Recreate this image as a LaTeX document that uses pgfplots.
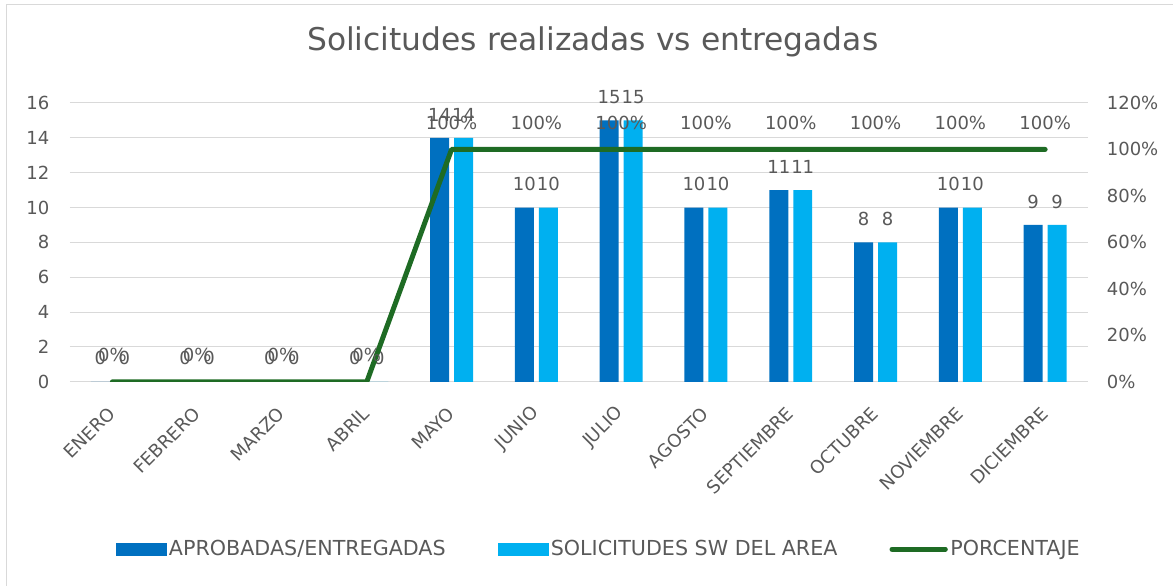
\documentclass[border=0pt]{standalone}
\usepackage{pgfplots}
\pgfplotsset{compat=1.18}
\usepackage{fontspec}
\setmainfont{DejaVu Sans}

\definecolor{barA}{HTML}{0070C0}
\definecolor{barB}{HTML}{00B0F0}
\definecolor{lineG}{HTML}{1E6B24}
\definecolor{txt}{HTML}{595959}
\definecolor{gridc}{HTML}{D9D9D9}

\newcommand\tickfont{\fontsize{13.5pt}{16pt}\selectfont}

\pgfplotsset{
  /pgf/number format/assume math mode=true,
  base/.style={
    scale only axis, width=763.5pt, height=209.25pt,
    at={(52.5pt,153pt)}, anchor=south west,
    xmin=-0.5, xmax=11.5,
    major tick length=0pt,
    axis line style={draw=none},
    tick label style={font=\tickfont, text=txt},
  },
}

\begin{document}
\begin{tikzpicture}
% chart frame
\draw[gridc, line width=0.75pt] (5.25pt,0pt) -- (5.25pt,435.75pt) -- (879.75pt,435.75pt);
\path[use as bounding box] (0pt,0pt) rectangle (879.75pt,439.5pt);

\begin{axis}[
  base,
  ymin=0, ymax=16,
  ytick={0,2,...,16},
  axis x line*=bottom, axis y line*=left,
  ymajorgrids, grid style={gridc, line width=0.75pt},
  xtick={0,...,11},
  xticklabels={ENERO,FEBRERO,MARZO,ABRIL,MAYO,JUNIO,JULIO,AGOSTO,SEPTIEMBRE,OCTUBRE,NOVIEMBRE,DICIEMBRE},
  xticklabel style={yshift=-19pt, xshift=2pt, rotate=45, anchor=east},
  yticklabel style={xshift=-12pt},
  title={Solicitudes realizadas vs entregadas},
  title style={font=\fontsize{23.5pt}{28pt}\selectfont, text=txt, anchor=center,
    at={(0.5,1)}, yshift=39.75pt, xshift=10.5pt},
  nodes near coords,
  every node near coord/.append style={font=\tickfont, text=txt, anchor=south,
    inner sep=0pt, yshift=12.3pt},
]
\addplot[ybar, bar width=14.25pt, bar shift=-9pt, fill=barA, draw=none,
  every node near coord/.append style={xshift=-9pt}]
  coordinates {(0,0) (1,0) (2,0) (3,0) (4,14) (5,10) (6,15) (7,10) (8,11) (9,8) (10,10) (11,9)};
\addplot[ybar, bar width=14.25pt, bar shift=9pt, fill=barB, draw=none,
  every node near coord/.append style={xshift=9pt}]
  coordinates {(0,0) (1,0) (2,0) (3,0) (4,14) (5,10) (6,15) (7,10) (8,11) (9,8) (10,10) (11,9)};
\end{axis}

\begin{axis}[
  base,
  ymin=0, ymax=1.2,
  axis y line*=right, axis x line=none,
  ytick={0,0.2,0.4,0.6,0.8,1,1.2},
  yticklabels={0\%,20\%,40\%,60\%,80\%,100\%,120\%},
  yticklabel style={xshift=11pt},
  legend columns=3,
  legend style={at={(0.52,-0.6)}, anchor=center, draw=none, fill=none,
    font=\fontsize{15.5pt}{18pt}\selectfont, text=txt,
    /tikz/every even column/.append style={column sep=37pt}},
  legend cell align=left,
]
\addlegendimage{legend image code/.code={\fill[barA] (0pt,-4.5pt) rectangle (37.5pt,4.5pt);}}
\addlegendentry{APROBADAS/ENTREGADAS}
\addlegendimage{legend image code/.code={\fill[barB] (0pt,-4.5pt) rectangle (37.5pt,4.5pt);}}
\addlegendentry{SOLICITUDES SW DEL AREA}
\addlegendimage{legend image code/.code={\draw[lineG, line width=3.75pt, line cap=round] (0pt,0pt) -- (40pt,0pt);}}
\addlegendentry{PORCENTAJE}

\addplot[lineG, line width=3.75pt, line cap=round, line join=round, mark=none,
  point meta=explicit symbolic, nodes near coords,
  every node near coord/.append style={font=\tickfont, text=txt, anchor=south,
    inner sep=0pt, yshift=13pt}]
  coordinates {(0,0) [0\%] (1,0) [0\%] (2,0) [0\%] (3,0) [0\%] (4,1) [100\%] (5,1) [100\%]
    (6,1) [100\%] (7,1) [100\%] (8,1) [100\%] (9,1) [100\%] (10,1) [100\%] (11,1) [100\%]};
\end{axis}
\end{tikzpicture}
\end{document}
